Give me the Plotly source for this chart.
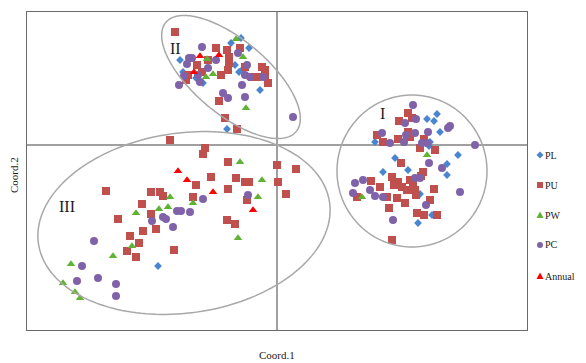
import numpy as np
import plotly.graph_objects as go

# ---------------- data (Coord.1, Coord.2) ----------------
PL_x = [-0.97, -0.94, -0.81, -0.74, -0.46, -0.36, -0.28, -0.42, -0.38, -0.17, -0.50, -0.35,
        1.60, 1.50, 1.57, 1.63, 0.98, 1.53, 1.52, 1.81, 1.18, 1.31, 1.06, 1.70, 1.70, 1.41, 1.55, 1.43,
        -1.19]
PL_y = [0.85, 0.73, 0.67, 0.62, 1.02, 1.07, 0.97, 0.80, 0.73, 0.55, 0.16, 0.75,
        0.31, 0.26, 0.24, 0.13, 0.03, 0.03, -0.01, -0.10, -0.13, -0.25, -0.27, -0.19, -0.30, -0.78, -0.70, -0.49,
        -1.21]

PU_x = [-1.02, -0.61, -0.50, -0.69, -0.48, -0.48, -0.49, -0.56, -0.80, -0.89, -0.75, -0.37, -0.32, -0.25,
        -0.20, -0.15, -0.12, -0.12, -0.09, -0.58, -0.52, -0.40, -0.91,
        1.31, 1.35, 1.22, 1.00, 1.06, 1.21, 1.31, 1.33, 1.47, 1.43, 1.58, 1.24, 1.46, 1.44, 0.94, 1.03,
        1.15, 1.21, 1.25, 1.17, 1.33, 1.36, 1.30, 1.38, 0.80, 1.10, 1.20, 1.28, 1.39, 1.57, 1.53, 1.12,
        1.40, 1.47, 1.60, 1.15,
        -1.07, -1.71, -1.26, -1.17, -1.14, -1.35, -1.59, -1.26, -1.34, -1.21, -1.47, -1.38, -1.50, -1.41,
        -1.03, -0.72, -0.74, -0.49, 0.00, 0.19, -0.81, -0.66, -0.41, -0.32, -0.28, 0.01, 0.09, -0.49,
        -0.84, -0.30, -0.50, -0.42]
PU_y = [1.13, 0.97, 0.95, 0.85, 0.88, 0.82, 0.75, 0.70, 0.80, 0.70, 0.73, 0.97, 0.78, 0.68,
        0.68, 0.78, 0.75, 0.70, 0.62, 0.44, 0.27, 0.16, 0.65,
        0.32, 0.27, 0.24, 0.10, 0.03, 0.06, 0.13, 0.08, 0.06, -0.03, -0.05, -0.18, -0.27, -0.31, -0.36, -0.42,
        -0.32, -0.37, -0.42, -0.40, -0.35, -0.40, -0.45, -0.45, -0.52, -0.52, -0.53, -0.58, -0.50, -0.44, -0.55, -0.63,
        -0.68, -0.70, -0.70, -0.95,
        0.05, -0.46, -0.47, -0.47, -0.51, -0.59, -0.74, -0.69, -0.86, -0.84, -0.91, -0.98, -1.06, -1.12,
        -1.05, -0.03, -0.09, -0.17, -0.20, -0.24, -0.40, -0.32, -0.33, -0.37, -0.37, -0.37, -0.49, -0.44,
        -0.52, -0.55, -0.75, -0.79]

PW_x = [-0.41, -0.70, -0.71, -0.64, -0.34, -0.31,
        1.50, 0.85,
        -1.07, -1.41, -1.18, -1.09, -1.45, -1.64, -2.06, -2.14, -2.02, -1.97, -0.37, -0.15, -0.84, -0.19, -0.39]
PW_y = [1.06, 0.86, 0.68, 0.71, 0.88, 0.37,
        -0.10, -0.52,
        -0.52, -0.68, -0.64, -0.62, -1.01, -1.11, -1.19, -1.38, -1.47, -1.53, -0.17, -0.35, -0.58, -0.52, -0.93]

PC_x = [-0.75, -0.39, -0.88, -0.90, -0.93, -0.85, -0.79, -0.69, -0.98, -0.77, -0.30, -0.32, -0.14, -0.27,
        -0.35, -0.32, -0.54, -0.49, 0.16, -0.61,
        1.36, 1.28, 1.39, 1.73, 1.71, 1.05, 1.13, 1.29, 1.38, 1.51, 1.27, 1.45, 1.50, 1.98, 1.52, 1.65,
        1.38, 1.43, 0.78, 0.86, 0.76, 0.93, 0.98, 1.06, 1.49, 1.16, 1.83,
        -1.00, -0.96, -1.25, -1.14, -1.11, -1.04, -1.83, -1.95, -2.00, -1.79, -1.61, -1.61, -0.74, -0.29, -0.87]
PC_y = [0.98, 0.92, 0.87, 0.81, 0.69, 0.87, 0.70, 0.77, 0.60, 0.63, 0.80, 0.70, 0.68, 0.68,
        0.60, 0.48, 0.52, 0.47, 0.28, 0.85,
        0.40, 0.22, 0.26, 0.19, 0.17, 0.12, 0.02, 0.10, 0.12, 0.13, 0.03, 0.02, 0.02, 0.00, -0.18, -0.23,
        -0.33, -0.33, -0.38, -0.35, -0.48, -0.45, -0.51, -0.52, -0.60, -0.75, -0.47,
        -0.66, -0.66, -0.76, -0.72, -0.74, -0.82, -0.96, -1.21, -1.36, -1.33, -1.39, -1.51, -0.54, -0.50, -0.67]

ANN_x = [-0.77, -0.58, -0.83, -0.99, -0.90, -0.64, -0.24]
ANN_y = [0.89, 0.90, 0.73, -0.26, -0.35, -0.47, -0.65]

SERIES = ["PL", "PU", "PW", "PC", "Annual"]
GROUP_LABELS = ["I", "II", "III"]
GROUP_LABEL_X = [1.05, -1.02, -2.10]
GROUP_LABEL_Y = [0.32, 0.97, -0.61]

# ellipses: centre x, centre y, semi-axis a, semi-axis b, angle (deg)
ELLIPSES = [(1.35, -0.26, 0.75, 0.76, 0.0),
            (-0.46, 0.68, 0.85, 0.37, -40.0),
            (-0.93, -0.78, 1.47, 0.90, 8.0)]

# ---------------- styles ----------------
COLORS = {"PL": "#4a86cf", "PU": "#c0504d", "PW": "#5fb234", "PC": "#7f62a8", "Annual": "#ff0000"}
SYMBOLS = {"PL": "diamond", "PU": "square", "PW": "triangle-up", "PC": "circle", "Annual": "triangle-up"}
SIZES = {"PL": 6, "PU": 8, "PW": 7.5, "PC": 8, "Annual": 7.5}
SERIF = "Liberation Serif, Times New Roman, serif"

fig = go.Figure()
data = {"PL": (PL_x, PL_y), "PU": (PU_x, PU_y), "PW": (PW_x, PW_y), "PC": (PC_x, PC_y), "Annual": (ANN_x, ANN_y)}
for name in SERIES:
    xs, ys = data[name]
    fig.add_trace(go.Scatter(x=xs, y=ys, mode="markers", name=name, showlegend=False,
                             marker=dict(symbol=SYMBOLS[name], color=COLORS[name], size=SIZES[name],
                                         line=dict(width=0))))

shapes = []
t = np.linspace(0, 2 * np.pi, 181)
for cx, cy, a, b, ang in ELLIPSES:
    th = np.deg2rad(ang)
    ex = cx + a * np.cos(t) * np.cos(th) - b * np.sin(t) * np.sin(th)
    ey = cy + a * np.cos(t) * np.sin(th) + b * np.sin(t) * np.cos(th)
    path = "M" + " L".join(f"{x:.4f},{y:.4f}" for x, y in zip(ex, ey)) + " Z"
    shapes.append(dict(type="path", xref="x", yref="y", path=path,
                       line=dict(color="#a8a8a8", width=1.5), layer="above"))

annotations = []
for lab, lx, ly in zip(GROUP_LABELS, GROUP_LABEL_X, GROUP_LABEL_Y):
    annotations.append(dict(x=lx, y=ly, xref="x", yref="y", text=lab, showarrow=False,
                            font=dict(family=SERIF, size=16, color="#1a1a1a")))

# page offset of the figure div (default body margin) and target plot area in page pixels
OFF = 8
W, H = 586 - OFF, 363 - OFF
L, R, T, B = 27 - OFF, 527 - OFF, 12 - OFF, 330 - OFF

def px2paper_x(px):
    return (px - OFF - L) / (R - L)

def py2paper_y(py):
    return (B - (py - OFF)) / (B - T)

LEG_MARK_X = 540
LEG_TEXT_X = 544
LEG_Y = [155, 185, 215, 245, 276]
for name, py in zip(SERIES, LEG_Y):
    xa, ya = px2paper_x(LEG_MARK_X), py2paper_y(py)
    base = dict(xref="paper", yref="paper", xsizemode="pixel", ysizemode="pixel",
                xanchor=xa, yanchor=ya, fillcolor=COLORS[name], line=dict(width=0), layer="above")
    sym = SYMBOLS[name]
    if sym == "square":
        shapes.append(dict(type="rect", x0=-3, x1=3, y0=-3, y1=3, **base))
    elif sym == "circle":
        shapes.append(dict(type="circle", x0=-3, x1=3, y0=-3, y1=3, **base))
    elif sym == "diamond":
        shapes.append(dict(type="path", path="M0,3.5 L3.5,0 L0,-3.5 L-3.5,0 Z", **base))
    else:
        shapes.append(dict(type="path", path="M-3.5,-3 L3.5,-3 L0,3.5 Z", **base))
    annotations.append(dict(x=px2paper_x(LEG_TEXT_X), y=ya, xref="paper", yref="paper", text=name,
                            showarrow=False, xanchor="left", yanchor="middle", borderpad=0,
                            font=dict(family=SERIF, size=10, color="#1a1a1a")))

annotations.append(dict(x=0.5, y=0, xref="paper", yref="paper", text="Coord.1", showarrow=False,
                        xanchor="center", yanchor="top", yshift=-17,
                        font=dict(family=SERIF, size=11, color="#1a1a1a")))
annotations.append(dict(x=0, y=py2paper_y(175), xref="paper", yref="paper", text="Coord.2", showarrow=False,
                        xanchor="center", yanchor="middle", xshift=-13, textangle=-90,
                        font=dict(family=SERIF, size=11, color="#1a1a1a")))

fig.update_layout(
    width=W, height=H,
    margin=dict(l=L, r=W - R, t=T, b=H - B, pad=0),
    paper_bgcolor="white", plot_bgcolor="white",
    showlegend=False,
    shapes=shapes, annotations=annotations,
    xaxis=dict(range=[-2.5, 2.5], showgrid=False, showticklabels=False, ticks="",
               zeroline=True, zerolinecolor="#a0a0a0", zerolinewidth=1.5,
               showline=True, mirror=True, linecolor="#6a6a6a", linewidth=1),
    yaxis=dict(range=[-1.85, 1.33], showgrid=False, showticklabels=False, ticks="",
               zeroline=True, zerolinecolor="#a0a0a0", zerolinewidth=1.5,
               showline=True, mirror=True, linecolor="#6a6a6a", linewidth=1),
)

fig.write_html("out.html")
